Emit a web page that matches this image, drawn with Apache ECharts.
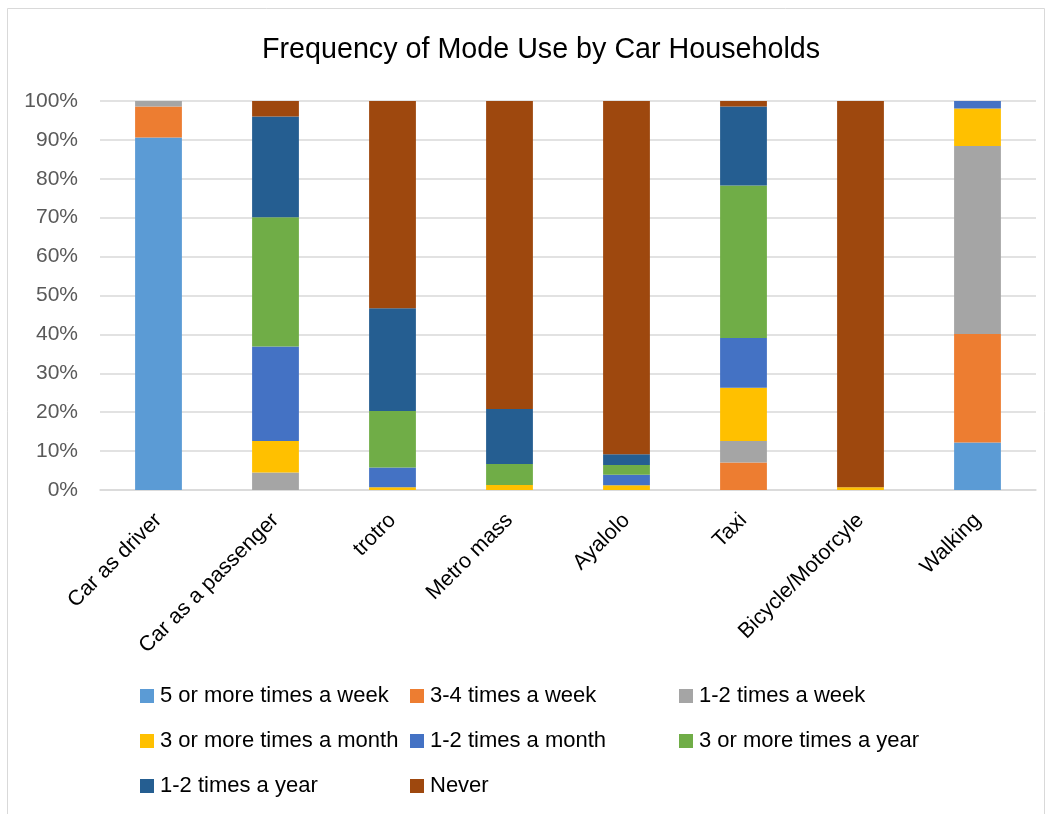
<!DOCTYPE html>
<html>
<head>
<meta charset="utf-8">
<title>Frequency of Mode Use by Car Households</title>
<script src="https://cdn.jsdelivr.net/npm/echarts@6/dist/echarts.min.js"></script>
<style>
  html, body { margin: 0; padding: 0; background: #fff; }
  #chart { width: 1052px; height: 814px; }
</style>
</head>
<body>
<div id="chart"></div>
<script>
// categories (x axis)
var modes = ["Car as driver", "Car as a passenger", "trotro", "Metro mass", "Ayalolo", "Taxi", "Bicycle/Motorcyle", "Walking"];

// percent of car households, one array per frequency band
var fivePlusWeek   = [90.6, 0,    0,    0,    0,    0,    0,    12.2];
var threeFourWeek  = [8.0,  0,    0,    0,    0,    7.1,  0,    27.9];
var oneTwoWeek     = [1.4,  4.5,  0,    0,    0,    5.5,  0,    48.3];
var threePlusMonth = [0,    8.1,  0.7,  1.3,  1.2,  13.7, 0.7,  9.7];
var oneTwoMonth    = [0,    24.3, 5.1,  0,    2.7,  12.8, 0,    1.9];
var threePlusYear  = [0,    33.2, 14.5, 5.4,  2.5,  39.2, 0,    0];
var oneTwoYear     = [0,    25.9, 26.4, 14.1, 2.8,  20.3, 0,    0];
var never          = [0,    4.0,  53.3, 79.2, 90.8, 1.4,  99.3, 0];

var yTicks = [0, 10, 20, 30, 40, 50, 60, 70, 80, 90, 100];

var bands = [
  { name: "5 or more times a week",  data: fivePlusWeek,   color: "#5B9BD5" },
  { name: "3-4 times a week",        data: threeFourWeek,  color: "#ED7D31" },
  { name: "1-2 times a week",        data: oneTwoWeek,     color: "#A5A5A5" },
  { name: "3 or more times a month", data: threePlusMonth, color: "#FFC000" },
  { name: "1-2 times a month",       data: oneTwoMonth,    color: "#4472C4" },
  { name: "3 or more times a year",  data: threePlusYear,  color: "#70AD47" },
  { name: "1-2 times a year",        data: oneTwoYear,     color: "#255E91" },
  { name: "Never",                   data: never,          color: "#9E480E" }
];

var font = "'Liberation Sans', Arial, sans-serif";

var series = [];
for (var i = 0; i < bands.length; i++) {
  series.push({
    name: bands[i].name,
    type: 'bar',
    stack: 'total',
    barWidth: '40%',
    data: bands[i].data,
    itemStyle: { color: bands[i].color },
    emphasis: { disabled: true }
  });
}

// excel lays the legend out in 3 columns, so use one legend per column
function legendCol(left, names) {
  return {
    orient: 'vertical',
    left: left,
    top: 685,
    padding: 0,
    itemWidth: 14,
    itemHeight: 14,
    itemGap: 23,
    icon: 'rect',
    selectedMode: false,
    textStyle: { fontFamily: font, fontSize: 22, lineHeight: 22, color: '#000', padding: [0, 0, 0, 1] },
    data: names
  };
}

var myChart = echarts.init(document.getElementById('chart'), null, { renderer: 'canvas' });

var option = {
  backgroundColor: '#fff',
  animation: false,
  title: {
    text: 'Frequency of Mode Use by Car Households',
    left: 257,
    top: 31,
    textStyle: { fontFamily: font, fontSize: 28.7, fontWeight: 'normal', color: '#000' }
  },
  legend: [
    legendCol(140, [bands[0].name, bands[3].name, bands[6].name]),
    legendCol(410, [bands[1].name, bands[4].name, bands[7].name]),
    legendCol(679, [bands[2].name, bands[5].name])
  ],
  grid: { left: 100, right: 16, top: 101, height: 389, containLabel: false },
  xAxis: {
    type: 'category',
    data: modes,
    axisLine: { lineStyle: { color: '#d9d9d9', width: 1.5 } },
    axisTick: { show: false },
    axisLabel: { rotate: 45, margin: 27, fontFamily: font, fontSize: 21.5, color: '#000', interval: 0 }
  },
  yAxis: {
    type: 'value',
    min: yTicks[0],
    max: yTicks[yTicks.length - 1],
    interval: yTicks[1] - yTicks[0],
    axisLine: { show: false },
    axisTick: { show: false },
    splitLine: { lineStyle: { color: '#d9d9d9', width: 1.5 } },
    axisLabel: { margin: 22, fontFamily: font, fontSize: 21, color: '#595959', formatter: '{value}%' }
  },
  graphic: [{
    type: 'rect',
    shape: { x: 7.5, y: 8.5, width: 1037, height: 810 },
    style: { fill: 'none', stroke: '#d9d9d9', lineWidth: 1 },
    silent: true
  }],
  series: series
};

myChart.setOption(option);
window.addEventListener('resize', myChart.resize);
</script>
</body>
</html>
